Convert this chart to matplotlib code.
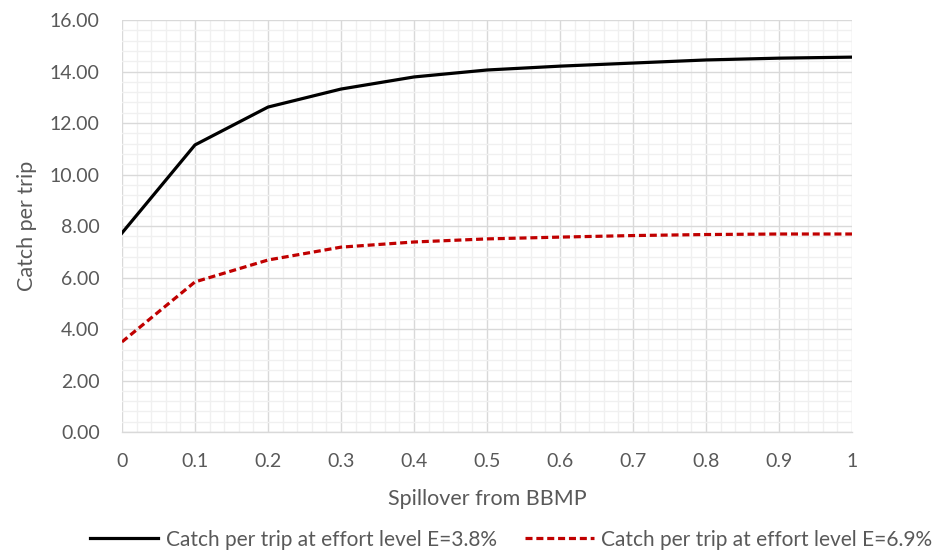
import numpy as np
import matplotlib.pyplot as plt
from matplotlib.ticker import MultipleLocator, FormatStrFormatter

plt.rcParams['font.family'] = ['Lato', 'DejaVu Sans']

spillover = [0, 0.1, 0.2, 0.3, 0.4, 0.5, 0.6, 0.7, 0.8, 0.9, 1.0]
catch_e38 = [7.73, 11.15, 12.62, 13.32, 13.79, 14.06, 14.21, 14.33, 14.45, 14.52, 14.56]
catch_e69 = [3.50, 5.83, 6.68, 7.18, 7.38, 7.50, 7.57, 7.63, 7.67, 7.69, 7.69]
x_labels = ['0', '0.1', '0.2', '0.3', '0.4', '0.5', '0.6', '0.7', '0.8', '0.9', '1']

txt = '#595959'

fig = plt.figure(figsize=(9.53, 5.57), dpi=100)
ax = fig.add_axes([0.128, 0.2244, 0.766, 0.7396])

ax.plot(spillover, catch_e38, color='black', lw=2.3, label='Catch per trip at effort level E=3.8%', zorder=3)
ax.plot(spillover, catch_e69, color='#c00000', lw=2.3, ls=(0, (2.2, 1.2)),
        label='Catch per trip at effort level E=6.9%', zorder=3)

ax.set_xlim(0, 1)
ax.set_ylim(0, 16)
ax.set_xticks(spillover)
ax.set_xticklabels(x_labels)
ax.yaxis.set_major_locator(MultipleLocator(2))
ax.yaxis.set_major_formatter(FormatStrFormatter('%.2f'))
ax.xaxis.set_minor_locator(MultipleLocator(0.02))
ax.yaxis.set_minor_locator(MultipleLocator(0.4))

ax.grid(which='major', color='#d9d9d9', lw=1.0, zorder=1)
ax.grid(which='minor', color='#f0f0f0', lw=1.0, zorder=0)
ax.set_axisbelow(True)

for s in ['top', 'right', 'left']:
    ax.spines[s].set_visible(False)
ax.spines['bottom'].set_color('#d9d9d9')
ax.spines['bottom'].set_linewidth(1.0)

ax.tick_params(which='both', length=0, colors=txt, labelsize=14)
ax.tick_params(axis='x', pad=15)
ax.tick_params(axis='y', pad=16)

ax.set_xlabel('Spillover from BBMP', color=txt, fontsize=15.5, labelpad=14)
ax.set_ylabel('Catch per trip', color=txt, fontsize=15.5, labelpad=9)

leg = fig.legend(loc='center', bbox_to_anchor=(0.536, 0.031), ncol=2, frameon=False,
                 fontsize=15, handlelength=3.3, handletextpad=0.35, columnspacing=1.35)
for t in leg.get_texts():
    t.set_color(txt)

fig.savefig('out.png', dpi=100)
